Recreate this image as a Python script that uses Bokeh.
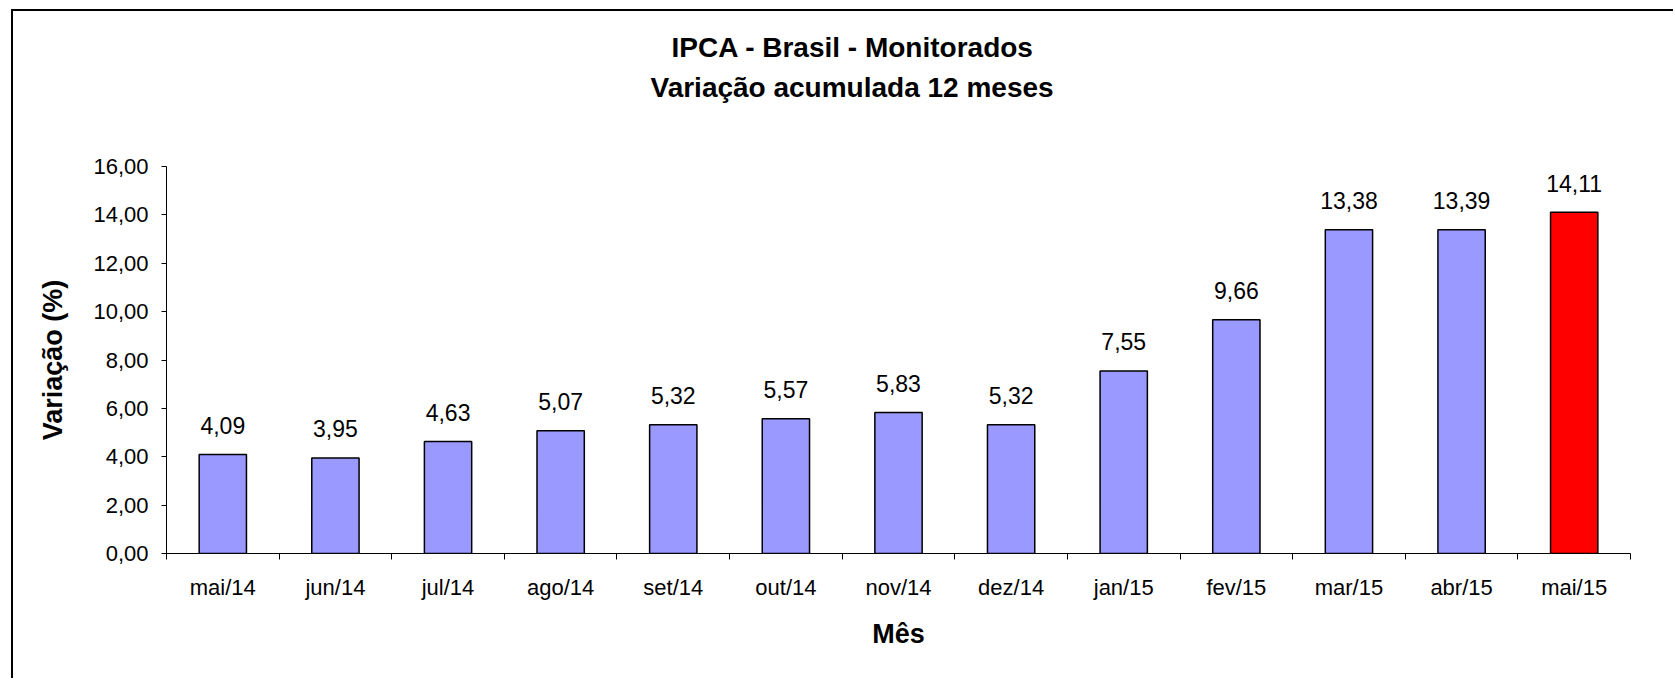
from bokeh.plotting import figure
from bokeh.models import (Range1d, FixedTicker, Title, ColumnDataSource)
from bokeh.embed import file_html
from bokeh.resources import INLINE
from bokeh.core.properties import value

# ---- data ----
months = ["mai/14", "jun/14", "jul/14", "ago/14", "set/14", "out/14", "nov/14",
          "dez/14", "jan/15", "fev/15", "mar/15", "abr/15", "mai/15"]
variation = [4.09, 3.95, 4.63, 5.07, 5.32, 5.57, 5.83, 5.32, 7.55, 9.66, 13.38, 13.39, 14.11]
bar_colors = ["#9999FF"] * 12 + ["#FF0000"]
y_ticks = [0, 2, 4, 6, 8, 10, 12, 14, 16]
title_lines = ["IPCA - Brasil - Monitorados", "Variação acumulada 12 meses"]
x_title = "Mês"
y_title = "Variação (%)"

FONT = "Liberation Sans"

def br(v):
    return f"{v:.2f}".replace(".", ",")

n = len(months)
centers = [i + 0.5 for i in range(n)]   # category slot centres on the index scale

src = ColumnDataSource(dict(
    x=centers, month=months, val=variation, color=bar_colors,
    lab=[br(v) for v in variation],
))

p = figure(x_range=Range1d(0, n), y_range=Range1d(0, 16), width=1662, height=669,
           output_backend="svg", toolbar_location=None,
           min_border_left=153, min_border_right=45, min_border_top=155,
           min_border_bottom=127)
p.styles = {"border-left": "2px solid #000", "border-top": "2px solid #000",
            "margin-left": "11px", "margin-top": "9px"}
p.outline_line_color = None
p.xgrid.grid_line_color = None
p.ygrid.grid_line_color = None
p.background_fill_color = "white"
p.border_fill_color = "white"

p.vbar(x="x", top="val", width=0.42, source=src, fill_color="color",
       line_color="black", line_width=1.5)

p.text(x="x", y="val", text="lab", source=src, y_offset=-29,
       text_align="center", text_baseline="middle", text_font=value(FONT),
       text_font_size="23px", text_color="black")

# y axis
ya = p.yaxis[0]
ya.ticker = FixedTicker(ticks=y_ticks, minor_ticks=[])
ya.major_label_overrides = {t: br(t) for t in y_ticks}
ya.major_tick_in = 0
ya.major_tick_out = 5
ya.minor_tick_line_color = None
ya.major_label_standoff = 13
ya.major_label_text_font = FONT
ya.major_label_text_font_size = "22px"
ya.major_label_text_color = "black"
ya.axis_line_color = "black"
ya.major_tick_line_color = "black"
ya.axis_label = y_title
ya.axis_label_text_font = FONT
ya.axis_label_text_font_size = "27px"
ya.axis_label_text_font_style = "bold"
ya.axis_label_text_color = "black"
ya.axis_label_standoff = 22

# x axis: labels at category centres, ticks at category boundaries
xa = p.xaxis[0]
xa.ticker = FixedTicker(ticks=centers, minor_ticks=list(range(n + 1)))
xa.major_label_overrides = {c: m for c, m in zip(centers, months)}
xa.major_tick_line_color = None
xa.major_tick_in = 0
xa.major_tick_out = 0
xa.minor_tick_in = 0
xa.minor_tick_out = 6
xa.minor_tick_line_color = "black"
xa.axis_line_color = "black"
xa.major_label_standoff = 15
xa.major_label_text_font = FONT
xa.major_label_text_font_size = "22px"
xa.major_label_text_color = "black"
xa.axis_label = x_title
xa.axis_label_text_font = FONT
xa.axis_label_text_font_size = "27px"
xa.axis_label_text_font_style = "bold"
xa.axis_label_text_color = "black"
xa.axis_label_standoff = 16

# titles: first added sits next to the plot (spacer), then line 2; p.title is outermost
def make_title(txt, standoff, offset, size="28px"):
    return Title(text=txt, align="left", offset=offset, standoff=standoff,
                 text_font=FONT, text_font_size=size, text_font_style="bold",
                 text_color="black")

p.title = make_title(title_lines[0], 11, 505)
p.add_layout(make_title(" ", 60, 0, size="1px"), "above")
p.add_layout(make_title(title_lines[1], 2, 484), "above")

open("out.html", "w").write(file_html(p, INLINE))
